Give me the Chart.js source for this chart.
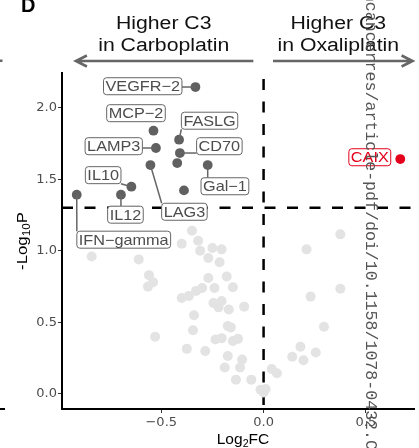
<!DOCTYPE html>
<html>
<head>
<meta charset="utf-8">
<script src="https://cdn.jsdelivr.net/npm/chart.js@4"></script>
<style>
  html, body { margin: 0; padding: 0; background: #fff; }
  #volcano { display: block; }
</style>
</head>
<body>
<canvas id="volcano" width="419" height="448"></canvas>
<script>
// proteins below the p < 0.05 line
var grayX = [-0.84, -0.61, -0.56, -0.54, -0.565, -0.40, -0.35, -0.32, -0.31, -0.25,
  -0.205, -0.27, -0.215, -0.27, -0.18, -0.30, -0.24, -0.33, -0.15, -0.365,
  -0.40, -0.245, -0.205, -0.22, -0.17, -0.095, -0.34, -0.345, -0.53, -0.175,
  -0.16, -0.235, -0.205, -0.15, -0.125, -0.375, -0.285, -0.175, -0.105, -0.19,
  -0.115, -0.135, -0.06, -0.015, 0.01, 0.04, 0.065, 0.375, 0.21, 0.375,
  0.23, 0.295, 0.18, 0.14, 0.195, 0.255, 0.0];
var grayY = [0.96, 0.94, 0.83, 0.78, 0.75, 1.05, 1.14, 1.07, 1.00, 1.02,
  1.01, 0.95, 0.92, 0.81, 0.82, 0.74, 0.74, 0.72, 0.745, 0.685,
  0.67, 0.635, 0.65, 0.605, 0.59, 0.61, 0.55, 0.445, 0.40, 0.475,
  0.465, 0.38, 0.39, 0.37, 0.385, 0.315, 0.30, 0.265, 0.24, 0.185,
  0.185, 0.10, 0.10, 0.03, 0.035, 0.175, 0.145, 1.115, 1.01, 0.735,
  0.68, 0.47, 0.33, 0.26, 0.235, 0.29, 0.01];

// significant, higher in carboplatin
var sigNames = ["VEGFR\u22122", "MCP\u22122", "FASLG", "LAMP3", "CD70", "", "LAG3",
  "Gal\u22121", "IL10", "", "IL12", "IFN\u2212gamma"];
var sigX = [-0.333, -0.538, -0.413, -0.526, -0.409, -0.422, -0.553, -0.273, -0.646, -0.389, -0.697, -0.913];
var sigY = [2.144, 1.839, 1.776, 1.718, 1.683, 1.613, 1.599, 1.599, 1.448, 1.422, 1.392, 1.392];

// significant, higher in oxaliplatin
var upNames = ["CAIX"];
var upX = [0.668];
var upY = [1.641];

var xTicks = [-0.5, 0, 0.5];
var yTicks = [0, 0.5, 1, 1.5, 2];
var pCutoff = 0.05;

// label box centre relative to its point, px
var labelOffsets = {
  "VEGFR\u22122": [-52.7, -0.8], "MCP\u22122": [-17.5, -17.5], "FASLG": [30.5, -19],
  "LAMP3": [-42.2, -1.8], "CD70": [39.5, -6.8], "LAG3": [34, 46.7],
  "Gal\u22121": [17.2, 21.2], "IL10": [-28.2, -11.5], "IL12": [4.5, 20],
  "IFN\u2212gamma": [47, 45], "CAIX": [-30.5, -1.8]
};

var RED = "#e4001b";
var DARK = "#606060";
var SANS = '"Liberation Sans", Arial, sans-serif';

function pts(xs, ys) {
  return xs.map(function (x, i) { return { x: x, y: ys[i] }; });
}

function fmt(v) {
  if (v === 0) return "0.0";
  return (v < 0 ? "\u2212" : "") + Math.abs(v).toFixed(1);
}

// text drawn a bit wider than the font, like the exported figure
function wideText(ctx, str, x, y, font, sx, align, color) {
  ctx.save();
  ctx.font = font;
  ctx.fillStyle = color;
  ctx.textAlign = align;
  ctx.translate(x, y);
  ctx.scale(sx, 1);
  ctx.fillText(str, 0, 0);
  ctx.restore();
}

function drawArrow(ctx, x1, x2, y) {
  var dir = x2 > x1 ? 1 : -1;
  ctx.beginPath();
  ctx.moveTo(x1, y);
  ctx.lineTo(x2, y);
  ctx.moveTo(x2 - dir * 11, y - 5.5);
  ctx.lineTo(x2, y);
  ctx.lineTo(x2 - dir * 11, y + 5.5);
  ctx.stroke();
}

var volcanoDecor = {
  id: "volcanoDecor",
  beforeDatasetsDraw: function (chart) {
    var ctx = chart.ctx, a = chart.chartArea;
    var x0 = chart.scales.x.getPixelForValue(0);
    var yp = chart.scales.y.getPixelForValue(-Math.log10(pCutoff));
    ctx.save();
    ctx.strokeStyle = "#000";
    ctx.lineWidth = 2.5;
    ctx.setLineDash([11, 11.5]);
    ctx.lineDashOffset = 16.5;
    ctx.beginPath();
    ctx.moveTo(x0, a.top);
    ctx.lineTo(x0, a.bottom);
    ctx.stroke();
    ctx.lineDashOffset = 0;
    ctx.beginPath();
    ctx.moveTo(a.left, yp);
    ctx.lineTo(a.right, yp);
    ctx.stroke();
    ctx.restore();
  },
  afterDatasetsDraw: function (chart) {
    var ctx = chart.ctx;
    var groups = [[1, sigNames, "#666", "#4d4d4d"], [2, upNames, RED, RED]];
    var font = "14.5px " + SANS;
    var sxText = 1.12;
    groups.forEach(function (g) {
      var meta = chart.getDatasetMeta(g[0]);
      g[1].forEach(function (name, i) {
        if (!name) return;
        var p = meta.data[i];
        var off = labelOffsets[name];
        ctx.save();
        ctx.font = font;
        var w = ctx.measureText(name).width * sxText + 4, h = 17;
        var cx = p.x + off[0], cy = p.y + off[1];
        var l = cx - w / 2, t = cy - h / 2;
        // leader segment to the closest edge of the box
        var nx = Math.min(Math.max(p.x, l), l + w);
        var ny = Math.min(Math.max(p.y, t), t + h);
        if (Math.hypot(p.x - nx, p.y - ny) - 5 > 5.5) {
          ctx.strokeStyle = g[2];
          ctx.lineWidth = 1.5;
          ctx.beginPath();
          ctx.moveTo(nx, ny);
          ctx.lineTo(p.x, p.y);
          ctx.stroke();
        }
        ctx.beginPath();
        ctx.roundRect(l, t, w, h, 3);
        ctx.fillStyle = "#fff";
        ctx.fill();
        ctx.strokeStyle = g[2];
        ctx.lineWidth = 1;
        ctx.stroke();
        ctx.restore();
        wideText(ctx, name, cx, cy + 5.2, font, sxText, "center", g[3]);
      });
    });
  },
  afterDraw: function (chart) {
    var ctx = chart.ctx;
    var sx = chart.scales.x;

    // direction headers
    var hf = "18px " + SANS;
    var lx = sx.getPixelForValue(-0.488), rx = sx.getPixelForValue(0.365);
    wideText(ctx, "Higher C3", lx, 28.5, hf, 1.18, "center", "#111");
    wideText(ctx, "in Carboplatin", lx, 51, hf, 1.18, "center", "#111");
    wideText(ctx, "Higher C3", rx, 28.5, hf, 1.18, "center", "#111");
    wideText(ctx, "in Oxaliplatin", rx, 51, hf, 1.18, "center", "#111");

    ctx.save();
    ctx.strokeStyle = "#666";
    ctx.lineWidth = 2.6;
    ctx.lineJoin = "miter";
    drawArrow(ctx, sx.getPixelForValue(-0.05), sx.getPixelForValue(-0.917), 61);
    drawArrow(ctx, sx.getPixelForValue(0.046), sx.getPixelForValue(0.728), 61);
    ctx.restore();

    // x title: Log2FC
    ctx.save();
    ctx.fillStyle = "#000";
    ctx.translate(243, 444);
    ctx.scale(1.07, 1);
    ctx.font = "14.5px " + SANS;
    var w1 = ctx.measureText("Log").width, w3 = ctx.measureText("FC").width;
    ctx.font = "10px " + SANS;
    var w2 = ctx.measureText("2").width;
    var x = -(w1 + w2 + w3) / 2;
    ctx.font = "14.5px " + SANS;
    ctx.fillText("Log", x, 0);
    ctx.font = "10px " + SANS;
    ctx.fillText("2", x + w1, 3);
    ctx.font = "14.5px " + SANS;
    ctx.fillText("FC", x + w1 + w2, 0);
    ctx.restore();

    // y title: -Log10P
    ctx.save();
    ctx.fillStyle = "#000";
    ctx.translate(26.5, 241);
    ctx.rotate(-Math.PI / 2);
    ctx.scale(1.12, 1);
    ctx.font = "15px " + SANS;
    var a1 = ctx.measureText("-Log").width, a3 = ctx.measureText("P").width;
    ctx.font = "10.5px " + SANS;
    var a2 = ctx.measureText("10").width;
    var y0 = -(a1 + a2 + a3) / 2;
    ctx.font = "15px " + SANS;
    ctx.fillText("-Log", y0, 0);
    ctx.font = "10.5px " + SANS;
    ctx.fillText("10", y0 + a1, 3.5);
    ctx.font = "15px " + SANS;
    ctx.fillText("P", y0 + a1 + a2, 0);
    ctx.restore();

    // panel letter and neighbouring panel edge
    ctx.save();
    ctx.fillStyle = "#000";
    ctx.font = "bold 20px " + SANS;
    ctx.fillText("D", 21, 11.5);
    ctx.fillRect(0, 408, 5, 2);
    ctx.fillStyle = "#666";
    ctx.fillRect(0, 59.5, 2.5, 2.5);
    ctx.restore();

    // download stamp along the right margin
    ctx.save();
    ctx.fillStyle = "#555";
    ctx.font = '16.6px "Liberation Mono", monospace';
    ctx.textBaseline = "middle";
    ctx.translate(370, -28);
    ctx.rotate(Math.PI / 2);
    ctx.fillText("lincancerres/article-pdf/doi/10.1158/1078-0432.CC", 0, 0);
    ctx.restore();
  }
};

new Chart(document.getElementById("volcano"), {
  type: "scatter",
  data: {
    datasets: [
      {
        label: "ns",
        data: pts(grayX, grayY),
        pointRadius: 5,
        backgroundColor: "#e3e3e3",
        borderWidth: 0,
      },
      {
        label: "carboplatin",
        data: pts(sigX, sigY),
        pointRadius: 4.9,
        backgroundColor: DARK,
        borderWidth: 0,
      },
      {
        label: "oxaliplatin",
        data: pts(upX, upY),
        pointRadius: 4.9,
        backgroundColor: RED,
        borderWidth: 0,
      },
    ],
  },
  options: {
    responsive: false,
    animation: false,
    events: [],
    layout: { padding: { top: 73, left: 0, right: 0, bottom: 0 } },
    plugins: {
      legend: { display: false },
      tooltip: { enabled: false },
    },
    scales: {
      x: {
        type: "linear",
        min: -0.985,
        max: 0.735,
        afterBuildTicks: function (s) { s.ticks = xTicks.map(function (v) { return { value: v }; }); },
        afterFit: function (s) { s.height = 39; },
        grid: { drawOnChartArea: false, drawTicks: true, tickLength: 4, color: "#333", lineWidth: 1 },
        border: { display: true, color: "#000", width: 2 },
        ticks: {
          padding: 2,
          color: "#4d4d4d",
          maxRotation: 0,
          autoSkip: false,
          font: { family: "DejaVu Sans", size: 13 },
          callback: function (v) { return fmt(v); },
        },
      },
      y: {
        type: "linear",
        min: -0.105,
        max: 2.242,
        afterBuildTicks: function (s) { s.ticks = yTicks.map(function (v) { return { value: v }; }); },
        afterFit: function (s) { s.width = 62; },
        grid: { drawOnChartArea: false, drawTicks: true, tickLength: 4, color: "#333", lineWidth: 1 },
        border: { display: true, color: "#000", width: 2 },
        ticks: {
          padding: 1,
          color: "#4d4d4d",
          autoSkip: false,
          font: { family: "DejaVu Sans", size: 13 },
          callback: function (v) { return fmt(v); },
        },
      },
    },
  },
  plugins: [volcanoDecor],
});
</script>
</body>
</html>
